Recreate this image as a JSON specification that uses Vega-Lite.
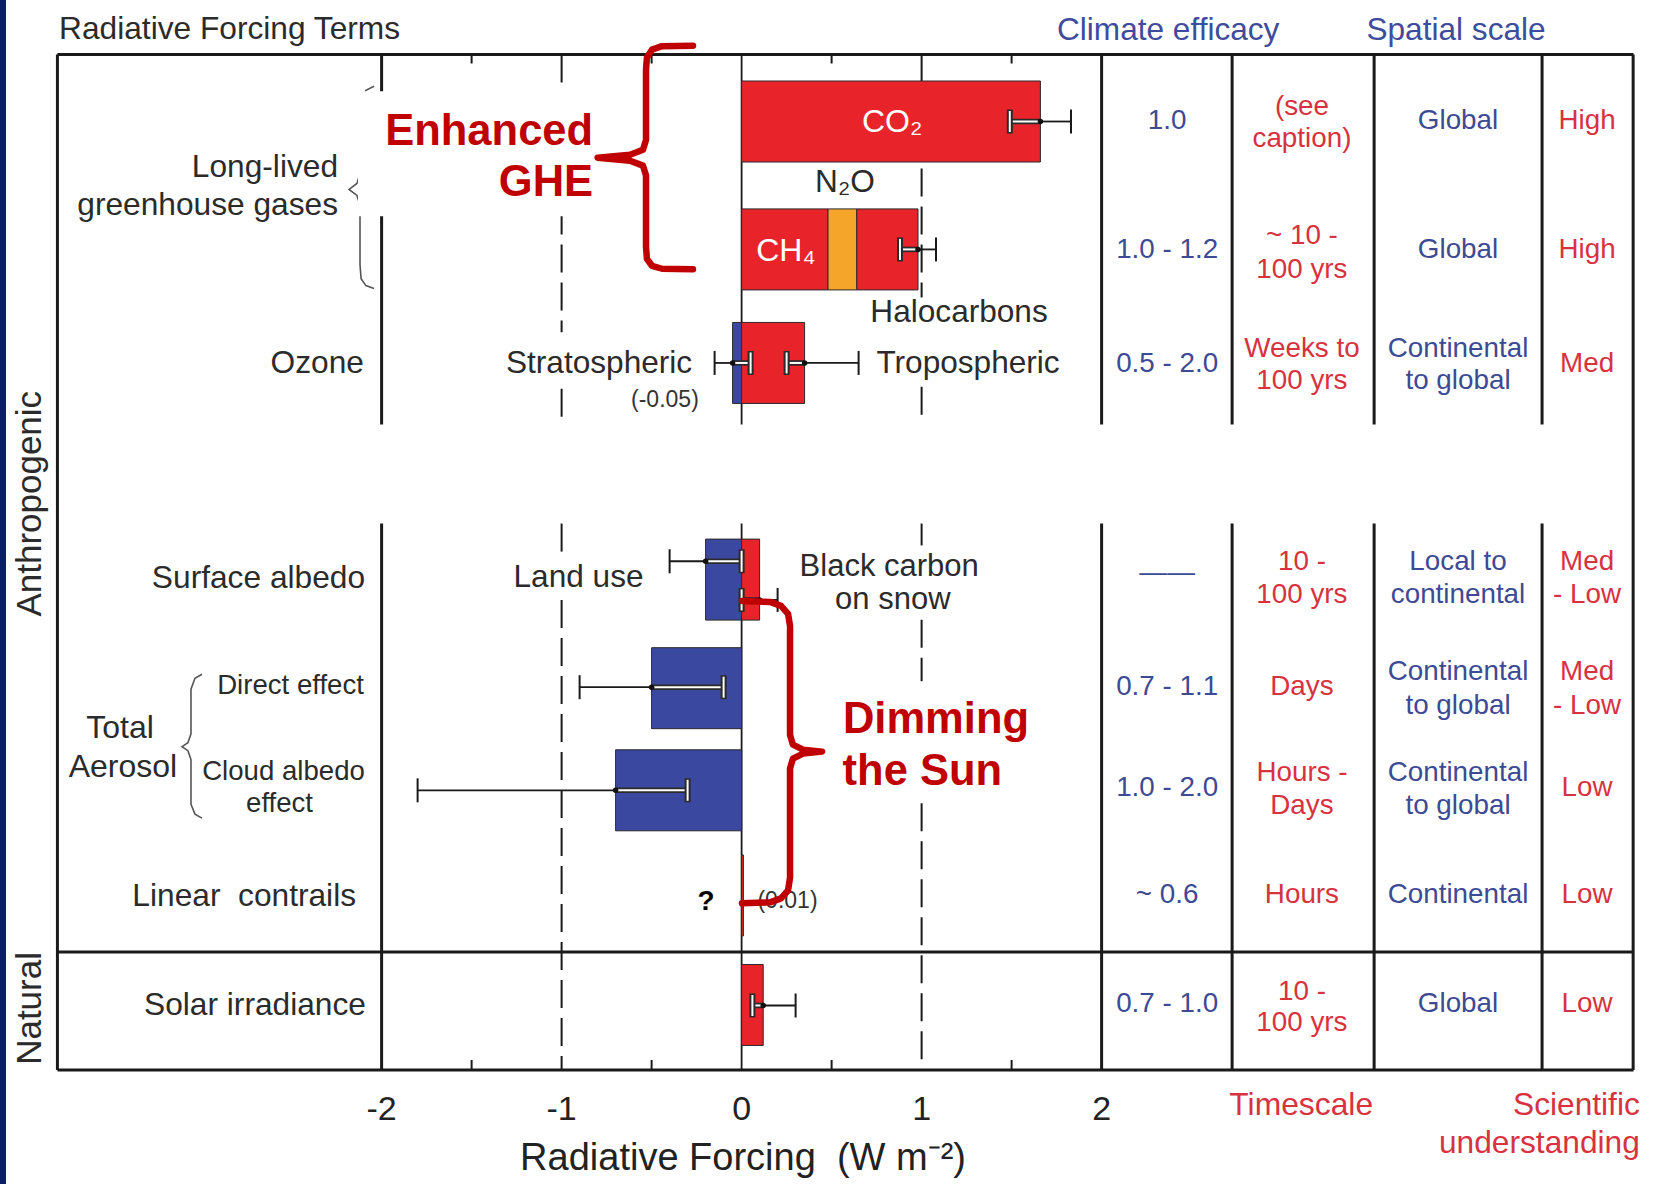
{
"$schema":"https://vega.github.io/schema/vega-lite/v6.json",
"width":1653,"height":1184,
"autosize":{"type":"fit","contains":"padding"},
"padding":{"left":6,"top":0,"right":0,"bottom":0},
"background":"#0b1c6b",
"config":{"view":{"fill":"white","stroke":null},"font":"Liberation Sans"},
"datasets":{
"hlines":[{"y":0.5},{"y":9.55},{"y":10.74}],
"grid":[{"x":-2,"kind":"solid"},{"x":0,"kind":"zero"},{"x":2,"kind":"solid"},{"x":2.725,"kind":"solid"},{"x":3.514,"kind":"solid"},{"x":4.447,"kind":"solid"}],
"dashSegs":[
{"x":-1,"y0":0.50,"y1":3.30},{"x":-1,"y0":3.87,"y1":4.23},{"x":-1,"y0":5.23,"y1":5.57},{"x":-1,"y0":6.00,"y1":10.74},
{"x":1,"y0":0.50,"y1":2.95},{"x":1,"y0":3.85,"y1":4.23},{"x":1,"y0":5.23,"y1":5.45},{"x":1,"y0":6.20,"y1":6.82},{"x":1,"y0":8.05,"y1":10.74}],
"borders":[{"x":-3.801},{"x":4.953}],
"minorTicks":[{"x":-1.5},{"x":-0.5},{"x":0.5},{"x":1.5}],
"tickLabels":[{"v":-2,"label":"-2"},{"v":-1,"label":"-1"},{"v":0,"label":"0"},{"v":1,"label":"1"},{"v":2,"label":"2"}],
"axisTitle":[{"v":0.008,"label":"Radiative Forcing\u00a0 (W m⁻²)"}],
"braces":[
{"brace":"ghg","i":1,"x":-2.042,"pos":0.82},{"brace":"ghg","i":2,"x":-2.087,"pos":0.86},{"brace":"ghg","i":3,"x":-2.114,"pos":0.96},{"brace":"ghg","i":4,"x":-2.12,"pos":1.10},{"brace":"ghg","i":5,"x":-2.12,"pos":1.70},{"brace":"ghg","i":6,"x":-2.137,"pos":1.80},{"brace":"ghg","i":7,"x":-2.181,"pos":1.86},{"brace":"ghg","i":8,"x":-2.137,"pos":1.92},{"brace":"ghg","i":9,"x":-2.12,"pos":2.02},{"brace":"ghg","i":10,"x":-2.12,"pos":2.62},{"brace":"ghg","i":11,"x":-2.114,"pos":2.76},{"brace":"ghg","i":12,"x":-2.087,"pos":2.83},{"brace":"ghg","i":13,"x":-2.042,"pos":2.86},
{"brace":"aer","i":1,"x":-2.998,"pos":6.75},{"brace":"aer","i":2,"x":-3.037,"pos":6.79},{"brace":"aer","i":3,"x":-3.059,"pos":6.90},{"brace":"aer","i":4,"x":-3.059,"pos":7.35},{"brace":"aer","i":5,"x":-3.076,"pos":7.44},{"brace":"aer","i":6,"x":-3.109,"pos":7.48},{"brace":"aer","i":7,"x":-3.076,"pos":7.52},{"brace":"aer","i":8,"x":-3.059,"pos":7.61},{"brace":"aer","i":9,"x":-3.059,"pos":8.06},{"brace":"aer","i":10,"x":-3.037,"pos":8.16},{"brace":"aer","i":11,"x":-2.998,"pos":8.20}],
"redBrackets":[
{"bracket":"ghe","i":1,"x":-0.27,"pos":0.41},{"bracket":"ghe","i":2,"x":-0.442,"pos":0.415},{"bracket":"ghe","i":3,"x":-0.498,"pos":0.45},{"bracket":"ghe","i":4,"x":-0.526,"pos":0.53},{"bracket":"ghe","i":5,"x":-0.531,"pos":0.65},{"bracket":"ghe","i":6,"x":-0.531,"pos":1.36},{"bracket":"ghe","i":7,"x":-0.548,"pos":1.46},{"bracket":"ghe","i":8,"x":-0.62,"pos":1.51},{"bracket":"ghe","i":9,"x":-0.8,"pos":1.54},{"bracket":"ghe","i":10,"x":-0.62,"pos":1.57},{"bracket":"ghe","i":11,"x":-0.548,"pos":1.62},{"bracket":"ghe","i":12,"x":-0.531,"pos":1.72},{"bracket":"ghe","i":13,"x":-0.531,"pos":2.44},{"bracket":"ghe","i":14,"x":-0.526,"pos":2.56},{"bracket":"ghe","i":15,"x":-0.498,"pos":2.63},{"bracket":"ghe","i":16,"x":-0.442,"pos":2.66},{"bracket":"ghe","i":17,"x":-0.27,"pos":2.665},
{"bracket":"dim","i":1,"x":0.002,"pos":6.01},{"bracket":"dim","i":2,"x":0.158,"pos":6.02},{"bracket":"dim","i":3,"x":0.219,"pos":6.06},{"bracket":"dim","i":4,"x":0.258,"pos":6.14},{"bracket":"dim","i":5,"x":0.269,"pos":6.26},{"bracket":"dim","i":6,"x":0.269,"pos":7.36},{"bracket":"dim","i":7,"x":0.285,"pos":7.46},{"bracket":"dim","i":8,"x":0.341,"pos":7.51},{"bracket":"dim","i":9,"x":0.447,"pos":7.53},{"bracket":"dim","i":10,"x":0.341,"pos":7.55},{"bracket":"dim","i":11,"x":0.285,"pos":7.60},{"bracket":"dim","i":12,"x":0.269,"pos":7.70},{"bracket":"dim","i":13,"x":0.269,"pos":8.80},{"bracket":"dim","i":14,"x":0.258,"pos":8.93},{"bracket":"dim","i":15,"x":0.219,"pos":9.01},{"bracket":"dim","i":16,"x":0.158,"pos":9.05},{"bracket":"dim","i":17,"x":0.002,"pos":9.06}],
"boxes":[{"x0":-2.131,"x1":-0.815,"y0":0.87,"y1":2.13}],
"bars":[
{"term":"CO2","pos":1.175,"x0":0,"x1":1.66,"sign":"warming"},
{"term":"CH4","pos":2.465,"x0":0,"x1":0.48,"sign":"warming"},
{"term":"N2O","pos":2.465,"x0":0.48,"x1":0.64,"sign":"n2o"},
{"term":"Halocarbons","pos":2.465,"x0":0.64,"x1":0.98,"sign":"warming"},
{"term":"Stratospheric ozone","pos":3.61,"x0":-0.05,"x1":0,"sign":"cooling"},
{"term":"Tropospheric ozone","pos":3.61,"x0":0,"x1":0.35,"sign":"warming"},
{"term":"Land use","pos":5.795,"x0":-0.2,"x1":0,"sign":"cooling"},
{"term":"Black carbon on snow","pos":5.795,"x0":0,"x1":0.1,"sign":"warming"},
{"term":"Direct effect","pos":6.89,"x0":-0.5,"x1":0,"sign":"cooling"},
{"term":"Cloud albedo effect","pos":7.92,"x0":-0.7,"x1":0,"sign":"cooling"},
{"term":"Linear contrails","pos":8.98,"x0":0,"x1":0.01,"sign":"warming"},
{"term":"Solar irradiance","pos":10.085,"x0":0,"x1":0.12,"sign":"warming"}],
"errs":[
{"term":"CO2","pos":1.175,"value":1.66,"inner":1.49,"outer":1.83},
{"term":"CH4+N2O+Halocarbons","pos":2.465,"value":0.98,"inner":0.88,"outer":1.08},
{"term":"Stratospheric ozone","pos":3.61,"value":-0.05,"inner":0.05,"outer":-0.15},
{"term":"Tropospheric ozone","pos":3.61,"value":0.35,"inner":0.25,"outer":0.65},
{"term":"Land use","pos":5.61,"value":-0.2,"inner":0.0,"outer":-0.4},
{"term":"Black carbon on snow","pos":6.0,"value":0.1,"inner":0.0,"outer":0.2},
{"term":"Direct effect","pos":6.88,"value":-0.5,"inner":-0.1,"outer":-0.9},
{"term":"Cloud albedo effect","pos":7.92,"value":-0.7,"inner":-0.3,"outer":-1.8},
{"term":"Solar irradiance","pos":10.09,"value":0.12,"inner":0.06,"outer":0.30}],
"textLeft":[
{"text":"Long-lived","x":-2.242,"pos":1.63},
{"text":"greenhouse gases","x":-2.242,"pos":2.02},
{"text":"Ozone","x":-2.098,"pos":3.61},
{"text":"Surface albedo","x":-2.092,"pos":5.78},
{"text":"Linear\u00a0 contrails","x":-2.142,"pos":8.99},
{"text":"Solar irradiance","x":-2.087,"pos":10.09}],
"textMid":[
{"text":"N₂O","x":0.574,"pos":1.80},
{"text":"Halocarbons","x":1.208,"pos":3.11},
{"text":"Stratospheric","x":-0.792,"pos":3.62},
{"text":"Tropospheric","x":1.258,"pos":3.62},
{"text":"Land use","x":-0.906,"pos":5.78}],
"textSnow":[
{"text":"Black carbon","x":0.82,"pos":5.67},
{"text":"on snow","x":0.84,"pos":6.0}],
"textSub":[
{"text":"Direct effect","x":-2.506,"pos":6.87},
{"text":"Cloud albedo","x":-2.545,"pos":7.74},
{"text":"effect","x":-2.567,"pos":8.06}],
"textTotal":[
{"text":"Total","x":-3.453,"pos":7.29},
{"text":"Aerosol","x":-3.437,"pos":7.68}],
"textParen":[
{"text":"(-0.05)","x":-0.426,"pos":3.98},
{"text":"(0.01)","x":0.255,"pos":9.04}],
"textBar":[
{"text":"CO₂","x":0.836,"pos":1.18},
{"text":"CH₄","x":0.246,"pos":2.48}],
"table":[
{"col":"eff","text":"1.0","pos":1.17},{"col":"eff","text":"1.0 - 1.2","pos":2.47},{"col":"eff","text":"0.5 - 2.0","pos":3.62},{"col":"eff","text":"——","pos":5.73},{"col":"eff","text":"0.7 - 1.1","pos":6.88},{"col":"eff","text":"1.0 - 2.0","pos":7.90},{"col":"eff","text":"~ 0.6","pos":8.98},{"col":"eff","text":"0.7 - 1.0","pos":10.08},
{"col":"time","text":"(see","pos":1.03},{"col":"time","text":"caption)","pos":1.35},{"col":"time","text":"~ 10 -","pos":2.33},{"col":"time","text":"100 yrs","pos":2.67},{"col":"time","text":"Weeks to","pos":3.47},{"col":"time","text":"100 yrs","pos":3.79},{"col":"time","text":"10 -","pos":5.62},{"col":"time","text":"100 yrs","pos":5.95},{"col":"time","text":"Days","pos":6.88},{"col":"time","text":"Hours -","pos":7.75},{"col":"time","text":"Days","pos":8.08},{"col":"time","text":"Hours","pos":8.98},{"col":"time","text":"10 -","pos":9.95},{"col":"time","text":"100 yrs","pos":10.27},
{"col":"space","text":"Global","pos":1.17},{"col":"space","text":"Global","pos":2.47},{"col":"space","text":"Continental","pos":3.47},{"col":"space","text":"to global","pos":3.79},{"col":"space","text":"Local to","pos":5.62},{"col":"space","text":"continental","pos":5.95},{"col":"space","text":"Continental","pos":6.73},{"col":"space","text":"to global","pos":7.07},{"col":"space","text":"Continental","pos":7.75},{"col":"space","text":"to global","pos":8.08},{"col":"space","text":"Continental","pos":8.98},{"col":"space","text":"Global","pos":10.08},
{"col":"sci","text":"High","pos":1.17},{"col":"sci","text":"High","pos":2.47},{"col":"sci","text":"Med","pos":3.62},{"col":"sci","text":"Med","pos":5.62},{"col":"sci","text":"- Low","pos":5.95},{"col":"sci","text":"Med","pos":6.73},{"col":"sci","text":"- Low","pos":7.07},{"col":"sci","text":"Low","pos":7.90},{"col":"sci","text":"Low","pos":8.98},{"col":"sci","text":"Low","pos":10.08}],
"headers":[
{"text":"Radiative Forcing Terms","x":-3.792,"pos":0.24,"kind":"dark"},
{"text":"Climate efficacy","x":2.37,"pos":0.26,"kind":"blue"},
{"text":"Spatial scale","x":3.969,"pos":0.26,"kind":"blue"},
{"text":"Timescale","x":3.109,"pos":11.09,"kind":"red"},
{"text":"Scientific","x":4.99,"pos":11.09,"kind":"redRight"},
{"text":"understanding","x":4.99,"pos":11.48,"kind":"redRight"}],
"side":[
{"text":"Anthropogenic","x":-3.953,"pos":5.03},
{"text":"Natural","x":-3.953,"pos":10.12}],
"question":[{"text":"?","x":-0.198,"pos":9.05}],
"callouts":[
{"text":"Enhanced","x":-0.825,"pos":1.28,"side":"right"},
{"text":"GHE","x":-0.825,"pos":1.80,"side":"right"},
{"text":"Dimming","x":0.563,"pos":7.21,"side":"left"},
{"text":"the Sun","x":0.561,"pos":7.74,"side":"left"}]
},
"layer":[
{"data":{"name":"borders"},"mark":{"type":"rule","color":"#1a1a1a","strokeWidth":3},
 "encoding":{"x":{"field":"x","type":"quantitative","scale":{"domain":[-4.0867,5.0633],"nice":false,"zero":false},"axis":null},
  "y":{"datum":0.5,"type":"quantitative","scale":{"domain":[0,11.84],"nice":false,"zero":false,"reverse":true},"axis":null},"y2":{"datum":10.74}}},
{"data":{"name":"hlines"},"mark":{"type":"rule","color":"#1a1a1a","strokeWidth":3},
 "encoding":{"x":{"datum":-3.801,"type":"quantitative","scale":{"domain":[-4.0867,5.0633],"nice":false,"zero":false},"axis":null},"x2":{"datum":4.955},
  "y":{"field":"y","type":"quantitative","scale":{"domain":[0,11.84],"nice":false,"zero":false,"reverse":true},"axis":null}}},
{"data":{"name":"grid"},"transform":[{"filter":"datum.kind === 'solid'"}],"mark":{"type":"rule","color":"#1a1a1a","strokeWidth":3},
 "encoding":{"x":{"field":"x","type":"quantitative","scale":{"domain":[-4.0867,5.0633],"nice":false,"zero":false},"axis":null},"y":{"datum":0.5,"type":"quantitative","scale":{"domain":[0,11.84],"nice":false,"zero":false,"reverse":true},"axis":null},"y2":{"datum":4.23}}},
{"data":{"name":"grid"},"transform":[{"filter":"datum.kind === 'solid'"}],"mark":{"type":"rule","color":"#1a1a1a","strokeWidth":3},
 "encoding":{"x":{"field":"x","type":"quantitative","scale":{"domain":[-4.0867,5.0633],"nice":false,"zero":false},"axis":null},"y":{"datum":5.23,"type":"quantitative","scale":{"domain":[0,11.84],"nice":false,"zero":false,"reverse":true},"axis":null},"y2":{"datum":10.74}}},
{"data":{"name":"grid"},"transform":[{"filter":"datum.kind === 'zero'"}],"mark":{"type":"rule","color":"#1a1a1a","strokeWidth":1.8},
 "encoding":{"x":{"field":"x","type":"quantitative","scale":{"domain":[-4.0867,5.0633],"nice":false,"zero":false},"axis":null},"y":{"datum":0.5,"type":"quantitative","scale":{"domain":[0,11.84],"nice":false,"zero":false,"reverse":true},"axis":null},"y2":{"datum":4.23}}},
{"data":{"name":"grid"},"transform":[{"filter":"datum.kind === 'zero'"}],"mark":{"type":"rule","color":"#1a1a1a","strokeWidth":1.8},
 "encoding":{"x":{"field":"x","type":"quantitative","scale":{"domain":[-4.0867,5.0633],"nice":false,"zero":false},"axis":null},"y":{"datum":5.23,"type":"quantitative","scale":{"domain":[0,11.84],"nice":false,"zero":false,"reverse":true},"axis":null},"y2":{"datum":10.74}}},
{"data":{"name":"dashSegs"},"mark":{"type":"rule","color":"#1a1a1a","strokeWidth":2,"strokeDash":[28,10]},
 "encoding":{"x":{"field":"x","type":"quantitative","scale":{"domain":[-4.0867,5.0633],"nice":false,"zero":false},"axis":null},"y":{"field":"y0","type":"quantitative","scale":{"domain":[0,11.84],"nice":false,"zero":false,"reverse":true},"axis":null},"y2":{"field":"y1"}}},
{"data":{"name":"minorTicks"},"mark":{"type":"rule","color":"#1a1a1a","strokeWidth":2},
 "encoding":{"x":{"field":"x","type":"quantitative","scale":{"domain":[-4.0867,5.0633],"nice":false,"zero":false},"axis":null},"y":{"datum":0.5,"type":"quantitative","scale":{"domain":[0,11.84],"nice":false,"zero":false,"reverse":true},"axis":null},"y2":{"datum":0.59}}},
{"data":{"name":"minorTicks"},"mark":{"type":"rule","color":"#1a1a1a","strokeWidth":2},
 "encoding":{"x":{"field":"x","type":"quantitative","scale":{"domain":[-4.0867,5.0633],"nice":false,"zero":false},"axis":null},"y":{"datum":10.64,"type":"quantitative","scale":{"domain":[0,11.84],"nice":false,"zero":false,"reverse":true},"axis":null},"y2":{"datum":10.74}}},
{"data":{"name":"tickLabels"},"mark":{"type":"text","fontSize":34,"align":"center","baseline":"middle","fill":"#222222"},
 "encoding":{"x":{"field":"v","type":"quantitative","scale":{"domain":[-4.0867,5.0633],"nice":false,"zero":false},"axis":null},"y":{"datum":11.14,"type":"quantitative","scale":{"domain":[0,11.84],"nice":false,"zero":false,"reverse":true},"axis":null},"text":{"field":"label"}}},
{"data":{"name":"axisTitle"},"mark":{"type":"text","fontSize":38,"align":"center","baseline":"middle","fill":"#222222"},
 "encoding":{"x":{"field":"v","type":"quantitative","scale":{"domain":[-4.0867,5.0633],"nice":false,"zero":false},"axis":null},"y":{"datum":11.64,"type":"quantitative","scale":{"domain":[0,11.84],"nice":false,"zero":false,"reverse":true},"axis":null},"text":{"field":"label"}}},
{"data":{"name":"braces"},"mark":{"type":"line","color":"#555555","strokeWidth":1.6},
 "encoding":{"x":{"field":"x","type":"quantitative","scale":{"domain":[-4.0867,5.0633],"nice":false,"zero":false},"axis":null},"y":{"field":"pos","type":"quantitative","scale":{"domain":[0,11.84],"nice":false,"zero":false,"reverse":true},"axis":null},"detail":{"field":"brace"},"order":{"field":"i","type":"quantitative"}}},
{"data":{"name":"boxes"},"mark":{"type":"rect","fill":"white"},
 "encoding":{"x":{"field":"x0","type":"quantitative","scale":{"domain":[-4.0867,5.0633],"nice":false,"zero":false},"axis":null},"x2":{"field":"x1"},"y":{"field":"y0","type":"quantitative","scale":{"domain":[0,11.84],"nice":false,"zero":false,"reverse":true},"axis":null},"y2":{"field":"y1"}}},
{"data":{"name":"bars"},"mark":{"type":"bar","size":81,"stroke":"#2a2a2a","strokeWidth":1},
 "encoding":{"x":{"field":"x0","type":"quantitative","scale":{"domain":[-4.0867,5.0633],"nice":false,"zero":false},"axis":null},"x2":{"field":"x1"},"y":{"field":"pos","type":"quantitative","scale":{"domain":[0,11.84],"nice":false,"zero":false,"reverse":true},"axis":null},
  "color":{"field":"sign","type":"nominal","scale":{"domain":["warming","n2o","cooling"],"range":["#e8232a","#f5a52a","#3b48a0"]},"legend":null}}},
{"data":{"name":"errs"},"mark":{"type":"rule","color":"#1a1a1a","strokeWidth":1.8},
 "encoding":{"x":{"field":"value","type":"quantitative","scale":{"domain":[-4.0867,5.0633],"nice":false,"zero":false},"axis":null},"x2":{"field":"outer"},"y":{"field":"pos","type":"quantitative","scale":{"domain":[0,11.84],"nice":false,"zero":false,"reverse":true},"axis":null}}},
{"data":{"name":"errs"},"mark":{"type":"rule","color":"#2a2a2a","strokeWidth":5.5},
 "encoding":{"x":{"field":"inner","type":"quantitative","scale":{"domain":[-4.0867,5.0633],"nice":false,"zero":false},"axis":null},"x2":{"field":"value"},"y":{"field":"pos","type":"quantitative","scale":{"domain":[0,11.84],"nice":false,"zero":false,"reverse":true},"axis":null}}},
{"data":{"name":"errs"},"mark":{"type":"rule","color":"white","strokeWidth":2},
 "encoding":{"x":{"field":"inner","type":"quantitative","scale":{"domain":[-4.0867,5.0633],"nice":false,"zero":false},"axis":null},"x2":{"field":"value"},"y":{"field":"pos","type":"quantitative","scale":{"domain":[0,11.84],"nice":false,"zero":false,"reverse":true},"axis":null}}},
{"data":{"name":"errs"},"mark":{"type":"tick","orient":"vertical","color":"#1a1a1a","size":24,"thickness":2,"opacity":1},
 "encoding":{"x":{"field":"outer","type":"quantitative","scale":{"domain":[-4.0867,5.0633],"nice":false,"zero":false},"axis":null},"y":{"field":"pos","type":"quantitative","scale":{"domain":[0,11.84],"nice":false,"zero":false,"reverse":true},"axis":null}}},
{"data":{"name":"errs"},"mark":{"type":"tick","orient":"vertical","color":"#2a2a2a","size":24,"thickness":6,"opacity":1},
 "encoding":{"x":{"field":"inner","type":"quantitative","scale":{"domain":[-4.0867,5.0633],"nice":false,"zero":false},"axis":null},"y":{"field":"pos","type":"quantitative","scale":{"domain":[0,11.84],"nice":false,"zero":false,"reverse":true},"axis":null}}},
{"data":{"name":"errs"},"mark":{"type":"tick","orient":"vertical","color":"white","size":21,"thickness":2,"opacity":1},
 "encoding":{"x":{"field":"inner","type":"quantitative","scale":{"domain":[-4.0867,5.0633],"nice":false,"zero":false},"axis":null},"y":{"field":"pos","type":"quantitative","scale":{"domain":[0,11.84],"nice":false,"zero":false,"reverse":true},"axis":null}}},
{"data":{"name":"errs"},"mark":{"type":"circle","color":"#111111","size":30,"opacity":1},
 "encoding":{"x":{"field":"value","type":"quantitative","scale":{"domain":[-4.0867,5.0633],"nice":false,"zero":false},"axis":null},"y":{"field":"pos","type":"quantitative","scale":{"domain":[0,11.84],"nice":false,"zero":false,"reverse":true},"axis":null}}},
{"data":{"name":"textMid"},"mark":{"type":"text","fontSize":31.6,"align":"center","baseline":"middle","fill":"#2b2b2b"},
 "encoding":{"x":{"field":"x","type":"quantitative","scale":{"domain":[-4.0867,5.0633],"nice":false,"zero":false},"axis":null},"y":{"field":"pos","type":"quantitative","scale":{"domain":[0,11.84],"nice":false,"zero":false,"reverse":true},"axis":null},"text":{"field":"text"}}},
{"data":{"name":"textSnow"},"mark":{"type":"text","fontSize":31,"align":"center","baseline":"middle","fill":"#2b2b2b"},
 "encoding":{"x":{"field":"x","type":"quantitative","scale":{"domain":[-4.0867,5.0633],"nice":false,"zero":false},"axis":null},"y":{"field":"pos","type":"quantitative","scale":{"domain":[0,11.84],"nice":false,"zero":false,"reverse":true},"axis":null},"text":{"field":"text"}}},
{"data":{"name":"textLeft"},"mark":{"type":"text","fontSize":31.7,"align":"right","baseline":"middle","fill":"#2b2b2b"},
 "encoding":{"x":{"field":"x","type":"quantitative","scale":{"domain":[-4.0867,5.0633],"nice":false,"zero":false},"axis":null},"y":{"field":"pos","type":"quantitative","scale":{"domain":[0,11.84],"nice":false,"zero":false,"reverse":true},"axis":null},"text":{"field":"text"}}},
{"data":{"name":"textSub"},"mark":{"type":"text","fontSize":27.6,"align":"center","baseline":"middle","fill":"#2b2b2b"},
 "encoding":{"x":{"field":"x","type":"quantitative","scale":{"domain":[-4.0867,5.0633],"nice":false,"zero":false},"axis":null},"y":{"field":"pos","type":"quantitative","scale":{"domain":[0,11.84],"nice":false,"zero":false,"reverse":true},"axis":null},"text":{"field":"text"}}},
{"data":{"name":"textTotal"},"mark":{"type":"text","fontSize":32,"align":"center","baseline":"middle","fill":"#2b2b2b"},
 "encoding":{"x":{"field":"x","type":"quantitative","scale":{"domain":[-4.0867,5.0633],"nice":false,"zero":false},"axis":null},"y":{"field":"pos","type":"quantitative","scale":{"domain":[0,11.84],"nice":false,"zero":false,"reverse":true},"axis":null},"text":{"field":"text"}}},
{"data":{"name":"textParen"},"mark":{"type":"text","fontSize":23,"align":"center","baseline":"middle","fill":"#333333"},
 "encoding":{"x":{"field":"x","type":"quantitative","scale":{"domain":[-4.0867,5.0633],"nice":false,"zero":false},"axis":null},"y":{"field":"pos","type":"quantitative","scale":{"domain":[0,11.84],"nice":false,"zero":false,"reverse":true},"axis":null},"text":{"field":"text"}}},
{"data":{"name":"textBar"},"mark":{"type":"text","fontSize":32,"align":"center","baseline":"middle","fill":"white"},
 "encoding":{"x":{"field":"x","type":"quantitative","scale":{"domain":[-4.0867,5.0633],"nice":false,"zero":false},"axis":null},"y":{"field":"pos","type":"quantitative","scale":{"domain":[0,11.84],"nice":false,"zero":false,"reverse":true},"axis":null},"text":{"field":"text"}}},
{"data":{"name":"question"},"mark":{"type":"text","fontSize":28,"fontWeight":"bold","align":"center","baseline":"middle","fill":"#000000"},
 "encoding":{"x":{"field":"x","type":"quantitative","scale":{"domain":[-4.0867,5.0633],"nice":false,"zero":false},"axis":null},"y":{"field":"pos","type":"quantitative","scale":{"domain":[0,11.84],"nice":false,"zero":false,"reverse":true},"axis":null},"text":{"field":"text"}}},
{"data":{"name":"table"},"transform":[{"filter":"datum.col === 'eff'"}],"mark":{"type":"text","fontSize":27.8,"align":"center","baseline":"middle","fill":"#3d4a94"},
 "encoding":{"x":{"datum":2.364,"type":"quantitative","scale":{"domain":[-4.0867,5.0633],"nice":false,"zero":false},"axis":null},"y":{"field":"pos","type":"quantitative","scale":{"domain":[0,11.84],"nice":false,"zero":false,"reverse":true},"axis":null},"text":{"field":"text"}}},
{"data":{"name":"table"},"transform":[{"filter":"datum.col === 'time'"}],"mark":{"type":"text","fontSize":27.8,"align":"center","baseline":"middle","fill":"#d8323f"},
 "encoding":{"x":{"datum":3.113,"type":"quantitative","scale":{"domain":[-4.0867,5.0633],"nice":false,"zero":false},"axis":null},"y":{"field":"pos","type":"quantitative","scale":{"domain":[0,11.84],"nice":false,"zero":false,"reverse":true},"axis":null},"text":{"field":"text"}}},
{"data":{"name":"table"},"transform":[{"filter":"datum.col === 'space'"}],"mark":{"type":"text","fontSize":27.8,"align":"center","baseline":"middle","fill":"#3d4a94"},
 "encoding":{"x":{"datum":3.98,"type":"quantitative","scale":{"domain":[-4.0867,5.0633],"nice":false,"zero":false},"axis":null},"y":{"field":"pos","type":"quantitative","scale":{"domain":[0,11.84],"nice":false,"zero":false,"reverse":true},"axis":null},"text":{"field":"text"}}},
{"data":{"name":"table"},"transform":[{"filter":"datum.col === 'sci'"}],"mark":{"type":"text","fontSize":27.8,"align":"center","baseline":"middle","fill":"#d8323f"},
 "encoding":{"x":{"datum":4.697,"type":"quantitative","scale":{"domain":[-4.0867,5.0633],"nice":false,"zero":false},"axis":null},"y":{"field":"pos","type":"quantitative","scale":{"domain":[0,11.84],"nice":false,"zero":false,"reverse":true},"axis":null},"text":{"field":"text"}}},
{"data":{"name":"headers"},"transform":[{"filter":"datum.kind === 'dark'"}],"mark":{"type":"text","fontSize":31.7,"align":"left","baseline":"middle","fill":"#2b2b2b"},
 "encoding":{"x":{"field":"x","type":"quantitative","scale":{"domain":[-4.0867,5.0633],"nice":false,"zero":false},"axis":null},"y":{"field":"pos","type":"quantitative","scale":{"domain":[0,11.84],"nice":false,"zero":false,"reverse":true},"axis":null},"text":{"field":"text"}}},
{"data":{"name":"headers"},"transform":[{"filter":"datum.kind === 'blue'"}],"mark":{"type":"text","fontSize":31.6,"align":"center","baseline":"middle","fill":"#3e4c9c"},
 "encoding":{"x":{"field":"x","type":"quantitative","scale":{"domain":[-4.0867,5.0633],"nice":false,"zero":false},"axis":null},"y":{"field":"pos","type":"quantitative","scale":{"domain":[0,11.84],"nice":false,"zero":false,"reverse":true},"axis":null},"text":{"field":"text"}}},
{"data":{"name":"headers"},"transform":[{"filter":"datum.kind === 'red'"}],"mark":{"type":"text","fontSize":31.8,"align":"center","baseline":"middle","fill":"#d8323f"},
 "encoding":{"x":{"field":"x","type":"quantitative","scale":{"domain":[-4.0867,5.0633],"nice":false,"zero":false},"axis":null},"y":{"field":"pos","type":"quantitative","scale":{"domain":[0,11.84],"nice":false,"zero":false,"reverse":true},"axis":null},"text":{"field":"text"}}},
{"data":{"name":"headers"},"transform":[{"filter":"datum.kind === 'redRight'"}],"mark":{"type":"text","fontSize":31.7,"align":"right","baseline":"middle","fill":"#d8323f"},
 "encoding":{"x":{"field":"x","type":"quantitative","scale":{"domain":[-4.0867,5.0633],"nice":false,"zero":false},"axis":null},"y":{"field":"pos","type":"quantitative","scale":{"domain":[0,11.84],"nice":false,"zero":false,"reverse":true},"axis":null},"text":{"field":"text"}}},
{"data":{"name":"side"},"mark":{"type":"text","fontSize":35,"align":"center","baseline":"middle","angle":270,"fill":"#2b2b2b"},
 "encoding":{"x":{"field":"x","type":"quantitative","scale":{"domain":[-4.0867,5.0633],"nice":false,"zero":false},"axis":null},"y":{"field":"pos","type":"quantitative","scale":{"domain":[0,11.84],"nice":false,"zero":false,"reverse":true},"axis":null},"text":{"field":"text"}}},
{"data":{"name":"redBrackets"},"mark":{"type":"line","color":"#c00000","strokeWidth":6.5,"strokeCap":"round","strokeJoin":"round"},
 "encoding":{"x":{"field":"x","type":"quantitative","scale":{"domain":[-4.0867,5.0633],"nice":false,"zero":false},"axis":null},"y":{"field":"pos","type":"quantitative","scale":{"domain":[0,11.84],"nice":false,"zero":false,"reverse":true},"axis":null},"detail":{"field":"bracket"},"order":{"field":"i","type":"quantitative"}}},
{"data":{"name":"callouts"},"transform":[{"filter":"datum.side === 'right'"}],"mark":{"type":"text","fontSize":43.5,"fontWeight":"bold","align":"right","baseline":"middle","fill":"#c00000"},
 "encoding":{"x":{"field":"x","type":"quantitative","scale":{"domain":[-4.0867,5.0633],"nice":false,"zero":false},"axis":null},"y":{"field":"pos","type":"quantitative","scale":{"domain":[0,11.84],"nice":false,"zero":false,"reverse":true},"axis":null},"text":{"field":"text"}}},
{"data":{"name":"callouts"},"transform":[{"filter":"datum.side === 'left'"}],"mark":{"type":"text","fontSize":43.5,"fontWeight":"bold","align":"left","baseline":"middle","fill":"#c00000"},
 "encoding":{"x":{"field":"x","type":"quantitative","scale":{"domain":[-4.0867,5.0633],"nice":false,"zero":false},"axis":null},"y":{"field":"pos","type":"quantitative","scale":{"domain":[0,11.84],"nice":false,"zero":false,"reverse":true},"axis":null},"text":{"field":"text"}}}
]
}
